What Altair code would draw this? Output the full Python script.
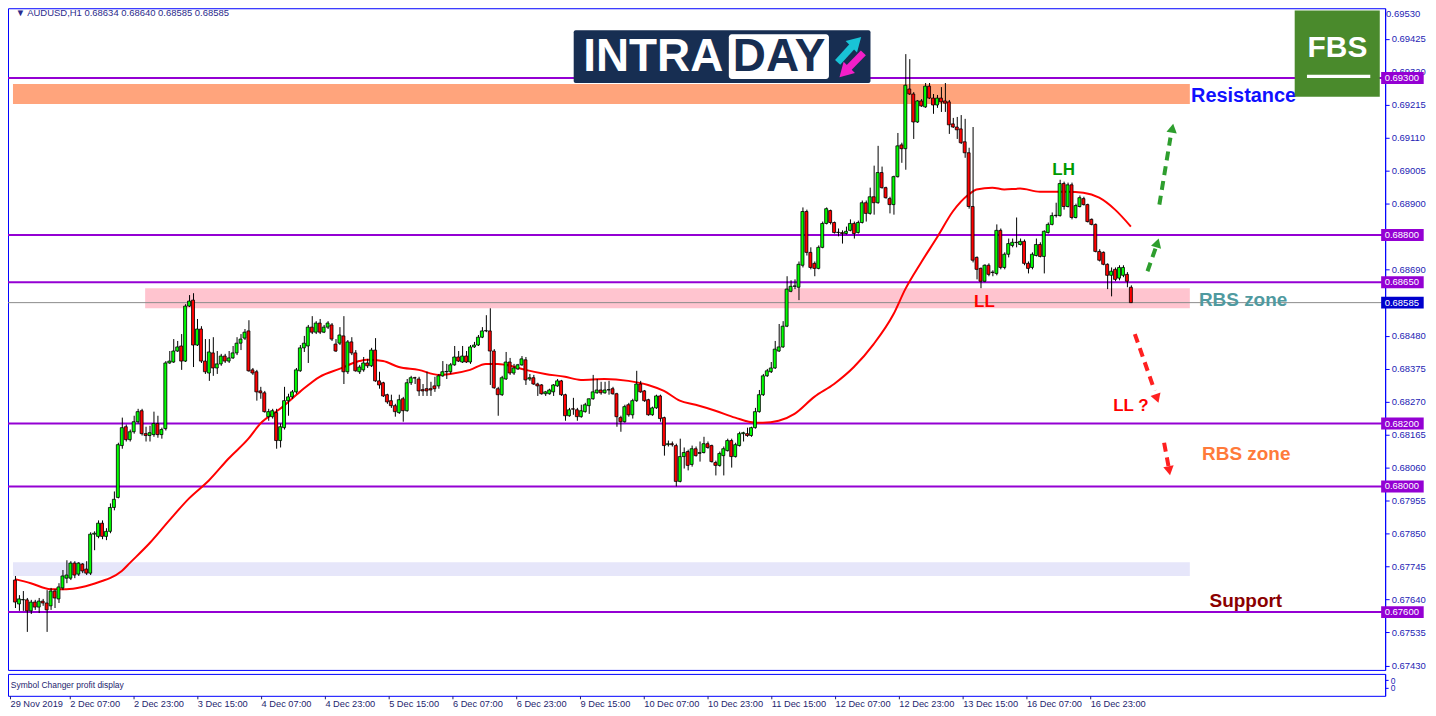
import altair as alt
import pandas as pd

# ---------------- data (AUDUSD H1) ----------------
opens = [0.67702,0.67626,0.67639,0.67639,0.67604,0.67632,0.67616,0.67635,0.67629,0.67620,
0.67667,0.67642,0.67677,0.67708,0.67708,0.67756,0.67721,0.67753,0.67737,0.67724,
0.67848,0.67841,0.67883,0.67841,0.67857,0.67933,0.67965,0.68130,0.68190,0.68149,
0.68174,0.68206,0.68241,0.68168,0.68162,0.68165,0.68200,0.68165,0.68184,0.68393,
0.68396,0.68431,0.68447,0.68399,0.68574,0.68593,0.68450,0.68501,0.68399,0.68361,
0.68425,0.68377,0.68390,0.68415,0.68399,0.68409,0.68425,0.68456,0.68472,0.68495,
0.68371,0.68365,0.68304,0.68298,0.68222,0.68222,0.68235,0.68146,0.68187,0.68273,
0.68285,0.68301,0.68368,0.68441,0.68447,0.68507,0.68491,0.68520,0.68491,0.68507,
0.68514,0.68453,0.68456,0.68479,0.68365,0.68460,0.68425,0.68365,0.68371,0.68393,
0.68384,0.68434,0.68336,0.68330,0.68292,0.68273,0.68257,0.68235,0.68279,0.68241,
0.68330,0.68346,0.68342,0.68308,0.68311,0.68311,0.68320,0.68320,0.68352,0.68365,
0.68365,0.68387,0.68412,0.68396,0.68415,0.68396,0.68444,0.68450,0.68475,0.68495,
0.68495,0.68431,0.68311,0.68292,0.68342,0.68396,0.68361,0.68374,0.68387,0.68403,
0.68342,0.68346,0.68326,0.68323,0.68295,0.68295,0.68301,0.68320,0.68336,0.68292,
0.68225,0.68247,0.68244,0.68222,0.68238,0.68257,0.68279,0.68298,0.68307,0.68298,
0.68307,0.68311,0.68295,0.68219,0.68206,0.68260,0.68228,0.68273,0.68326,0.68304,
0.68276,0.68228,0.68250,0.68288,0.68219,0.68133,0.68136,0.68130,0.68016,0.68095,
0.68111,0.68070,0.68120,0.68105,0.68108,0.68136,0.68130,0.68076,0.68067,0.68098,
0.68114,0.68146,0.68095,0.68130,0.68168,0.68168,0.68162,0.68187,0.68238,0.68292,
0.68352,0.68365,0.68377,0.68431,0.68444,0.68510,0.68621,0.68637,0.68634,0.68704,
0.68875,0.68745,0.68710,0.68694,0.68761,0.68837,0.68878,0.68840,0.68808,0.68808,
0.68805,0.68815,0.68837,0.68808,0.68840,0.68903,0.68869,0.68922,0.68903,0.68999,
0.68951,0.68916,0.68897,0.68986,0.69087,0.69075,0.69265,0.69249,0.69160,0.69227,
0.69208,0.69274,0.69236,0.69214,0.69236,0.69227,0.69224,0.69154,0.69144,0.69138,
0.69097,0.69062,0.68891,0.68729,0.68694,0.68653,0.68704,0.68682,0.68678,0.68815,
0.68697,0.68739,0.68767,0.68777,0.68770,0.68780,0.68710,0.68697,0.68735,0.68770,
0.68732,0.68808,0.68834,0.68862,0.68862,0.68964,0.68891,0.68960,0.68856,0.68891,
0.68916,0.68897,0.68850,0.68834,0.68748,0.68745,0.68707,0.68672,0.68691,0.68663,
0.68672,0.68675,0.68634]
highs = [0.67715,0.67654,0.67667,0.67645,0.67639,0.67639,0.67645,0.67642,0.67670,0.67677,
0.67673,0.67692,0.67734,0.67765,0.67762,0.67762,0.67759,0.67756,0.67762,0.67854,
0.67857,0.67892,0.67892,0.67867,0.67946,0.67984,0.68139,0.68219,0.68197,0.68181,
0.68225,0.68247,0.68247,0.68190,0.68193,0.68238,0.68225,0.68187,0.68399,0.68431,
0.68469,0.68463,0.68485,0.68580,0.68609,0.68615,0.68533,0.68510,0.68469,0.68469,
0.68475,0.68431,0.68422,0.68422,0.68431,0.68447,0.68475,0.68485,0.68501,0.68529,
0.68377,0.68371,0.68317,0.68304,0.68247,0.68247,0.68247,0.68200,0.68317,0.68295,
0.68307,0.68377,0.68450,0.68479,0.68514,0.68542,0.68526,0.68533,0.68514,0.68526,
0.68520,0.68469,0.68507,0.68542,0.68466,0.68475,0.68434,0.68387,0.68412,0.68406,
0.68441,0.68472,0.68365,0.68333,0.68295,0.68292,0.68263,0.68292,0.68285,0.68342,
0.68352,0.68349,0.68349,0.68326,0.68365,0.68333,0.68349,0.68358,0.68399,0.68390,
0.68393,0.68447,0.68431,0.68447,0.68431,0.68450,0.68460,0.68482,0.68507,0.68545,
0.68567,0.68437,0.68317,0.68352,0.68428,0.68409,0.68390,0.68390,0.68415,0.68412,
0.68358,0.68355,0.68330,0.68326,0.68304,0.68311,0.68326,0.68342,0.68339,0.68295,
0.68250,0.68282,0.68250,0.68260,0.68266,0.68279,0.68355,0.68342,0.68333,0.68333,
0.68336,0.68317,0.68298,0.68225,0.68260,0.68266,0.68279,0.68368,0.68336,0.68307,
0.68279,0.68254,0.68292,0.68292,0.68222,0.68146,0.68143,0.68136,0.68152,0.68124,
0.68117,0.68130,0.68127,0.68143,0.68158,0.68143,0.68133,0.68082,0.68111,0.68127,
0.68152,0.68152,0.68139,0.68174,0.68174,0.68187,0.68190,0.68250,0.68307,0.68358,
0.68374,0.68396,0.68463,0.68517,0.68526,0.68669,0.68656,0.68659,0.68716,0.68888,
0.68881,0.68761,0.68716,0.68767,0.68843,0.68888,0.68881,0.68843,0.68821,0.68815,
0.68827,0.68850,0.68843,0.68846,0.68910,0.68910,0.68951,0.69021,0.69084,0.69018,
0.68954,0.68922,0.68989,0.69125,0.69094,0.69376,0.69360,0.69255,0.69230,0.69233,
0.69284,0.69284,0.69249,0.69246,0.69271,0.69284,0.69230,0.69173,0.69176,0.69182,
0.69170,0.69078,0.69144,0.68732,0.68697,0.68707,0.68710,0.68688,0.68834,0.68821,
0.68745,0.68789,0.68789,0.68856,0.68789,0.68786,0.68716,0.68745,0.68789,0.68777,
0.68815,0.68840,0.68872,0.68903,0.68976,0.68970,0.68967,0.68967,0.68900,0.68926,
0.68922,0.68900,0.68853,0.68837,0.68755,0.68748,0.68710,0.68697,0.68697,0.68704,
0.68704,0.68682,0.68640]
lows = [0.67613,0.67604,0.67604,0.67537,0.67594,0.67607,0.67597,0.67620,0.67537,0.67607,
0.67613,0.67629,0.67670,0.67692,0.67702,0.67708,0.67715,0.67724,0.67718,0.67718,
0.67797,0.67835,0.67832,0.67829,0.67851,0.67924,0.67962,0.68120,0.68143,0.68143,
0.68168,0.68200,0.68162,0.68143,0.68143,0.68158,0.68155,0.68152,0.68178,0.68390,
0.68393,0.68428,0.68371,0.68396,0.68571,0.68380,0.68447,0.68393,0.68358,0.68336,
0.68352,0.68358,0.68384,0.68393,0.68393,0.68406,0.68418,0.68434,0.68466,0.68365,
0.68355,0.68273,0.68279,0.68235,0.68209,0.68216,0.68120,0.68124,0.68181,0.68225,
0.68279,0.68295,0.68365,0.68428,0.68393,0.68485,0.68485,0.68485,0.68488,0.68501,
0.68463,0.68428,0.68450,0.68326,0.68358,0.68418,0.68365,0.68358,0.68365,0.68377,
0.68380,0.68333,0.68311,0.68285,0.68263,0.68250,0.68222,0.68231,0.68206,0.68238,
0.68323,0.68326,0.68288,0.68288,0.68288,0.68288,0.68301,0.68311,0.68349,0.68342,
0.68358,0.68384,0.68396,0.68393,0.68393,0.68390,0.68441,0.68447,0.68472,0.68491,
0.68323,0.68311,0.68225,0.68288,0.68339,0.68355,0.68355,0.68371,0.68384,0.68323,
0.68336,0.68323,0.68288,0.68292,0.68288,0.68292,0.68288,0.68317,0.68288,0.68209,
0.68222,0.68228,0.68209,0.68219,0.68235,0.68231,0.68276,0.68295,0.68292,0.68295,
0.68292,0.68292,0.68190,0.68174,0.68203,0.68222,0.68216,0.68269,0.68298,0.68269,
0.68225,0.68225,0.68247,0.68206,0.68098,0.68127,0.68127,0.68000,0.68013,0.68057,
0.68051,0.68063,0.68095,0.68079,0.68105,0.68120,0.68076,0.68035,0.68063,0.68035,
0.68111,0.68060,0.68092,0.68127,0.68143,0.68158,0.68158,0.68184,0.68235,0.68288,
0.68349,0.68361,0.68374,0.68428,0.68441,0.68507,0.68618,0.68628,0.68593,0.68697,
0.68735,0.68691,0.68669,0.68691,0.68758,0.68834,0.68834,0.68805,0.68796,0.68773,
0.68802,0.68812,0.68789,0.68805,0.68837,0.68843,0.68865,0.68865,0.68900,0.68948,
0.68916,0.68869,0.68865,0.68983,0.69030,0.69008,0.69246,0.69106,0.69157,0.69208,
0.69205,0.69233,0.69186,0.69205,0.69192,0.69192,0.69122,0.69141,0.69106,0.69090,
0.69046,0.68884,0.68713,0.68659,0.68631,0.68650,0.68669,0.68669,0.68672,0.68691,
0.68691,0.68729,0.68761,0.68761,0.68767,0.68704,0.68678,0.68691,0.68732,0.68729,
0.68678,0.68805,0.68831,0.68856,0.68859,0.68881,0.68888,0.68850,0.68853,0.68888,
0.68894,0.68840,0.68831,0.68745,0.68716,0.68704,0.68628,0.68605,0.68653,0.68656,
0.68666,0.68634,0.68585]
closes = [0.67632,0.67642,0.67640,0.67604,0.67632,0.67616,0.67635,0.67629,0.67607,0.67667,
0.67645,0.67680,0.67715,0.67718,0.67756,0.67718,0.67756,0.67731,0.67724,0.67848,
0.67851,0.67883,0.67841,0.67857,0.67933,0.67959,0.68133,0.68187,0.68149,0.68174,
0.68206,0.68238,0.68168,0.68162,0.68171,0.68200,0.68165,0.68181,0.68393,0.68399,
0.68431,0.68444,0.68399,0.68574,0.68590,0.68450,0.68501,0.68399,0.68365,0.68428,
0.68377,0.68390,0.68415,0.68399,0.68409,0.68425,0.68456,0.68469,0.68491,0.68368,
0.68361,0.68301,0.68298,0.68238,0.68238,0.68241,0.68146,0.68190,0.68273,0.68285,
0.68301,0.68371,0.68441,0.68456,0.68507,0.68491,0.68520,0.68491,0.68507,0.68520,
0.68469,0.68431,0.68482,0.68365,0.68460,0.68425,0.68368,0.68380,0.68393,0.68384,
0.68434,0.68336,0.68323,0.68288,0.68269,0.68257,0.68238,0.68276,0.68241,0.68330,
0.68346,0.68345,0.68304,0.68304,0.68304,0.68307,0.68311,0.68352,0.68365,0.68366,
0.68387,0.68412,0.68399,0.68415,0.68396,0.68444,0.68450,0.68475,0.68495,0.68496,
0.68431,0.68314,0.68292,0.68346,0.68396,0.68361,0.68377,0.68387,0.68406,0.68339,
0.68346,0.68326,0.68320,0.68295,0.68301,0.68307,0.68323,0.68336,0.68292,0.68225,
0.68244,0.68246,0.68222,0.68241,0.68260,0.68279,0.68301,0.68307,0.68298,0.68307,
0.68308,0.68295,0.68222,0.68206,0.68254,0.68228,0.68273,0.68326,0.68301,0.68273,
0.68228,0.68250,0.68288,0.68216,0.68130,0.68136,0.68133,0.68016,0.68095,0.68108,
0.68067,0.68120,0.68098,0.68108,0.68136,0.68124,0.68079,0.68067,0.68105,0.68120,
0.68146,0.68095,0.68133,0.68168,0.68171,0.68162,0.68187,0.68238,0.68292,0.68352,
0.68368,0.68377,0.68437,0.68444,0.68510,0.68628,0.68637,0.68638,0.68707,0.68875,
0.68745,0.68697,0.68694,0.68761,0.68837,0.68884,0.68840,0.68808,0.68809,0.68805,
0.68812,0.68837,0.68805,0.68840,0.68903,0.68869,0.68922,0.68903,0.68999,0.68951,
0.68919,0.68897,0.68986,0.69084,0.69075,0.69277,0.69249,0.69160,0.69227,0.69211,
0.69274,0.69236,0.69214,0.69236,0.69224,0.69220,0.69151,0.69144,0.69135,0.69094,
0.69062,0.68891,0.68720,0.68691,0.68653,0.68704,0.68675,0.68681,0.68815,0.68697,
0.68739,0.68773,0.68777,0.68776,0.68780,0.68710,0.68694,0.68739,0.68770,0.68732,
0.68812,0.68834,0.68862,0.68863,0.68964,0.68891,0.68960,0.68856,0.68894,0.68919,
0.68897,0.68843,0.68834,0.68748,0.68720,0.68707,0.68672,0.68685,0.68659,0.68697,
0.68697,0.68653,0.68585]

# moving average (bar index, price)
ma_idx = [0,4,9,13,17,22,24,27,29,34,39,44,49,54,59,62,67,72,77,82,87,89,93,97,102,107,110,
          115,119,122,124,129,134,139,143,149,155,160,164,168,172,177,182,187,189,193,197,202,
          207,212,217,222,225,229,233,237,241,243,247,250,254,259,266,270,274,278,282]
ma_val = [0.67705,0.67692,0.67673,0.67673,0.67680,0.67699,0.67708,0.67731,0.67756,0.67819,
          0.67892,0.67962,0.68019,0.68089,0.68152,0.68200,0.68247,0.68301,0.68349,0.68374,
          0.68399,0.68403,0.68399,0.68380,0.68371,0.68355,0.68358,0.68371,0.68390,0.68390,
          0.68387,0.68371,0.68358,0.68349,0.68339,0.68342,0.68336,0.68323,0.68304,0.68273,
          0.68260,0.68241,0.68219,0.68203,0.68203,0.68209,0.68231,0.68285,0.68326,0.68380,
          0.68453,0.68548,0.68628,0.68713,0.68792,0.68875,0.68929,0.68945,0.68951,0.68945,
          0.68948,0.68938,0.68938,0.68935,0.68919,0.68881,0.68827]

level_prices = [0.69300, 0.68800, 0.68650, 0.68200, 0.68000, 0.67600]
current_price = 0.68585

# price-scale labels (0.68585 and 0.68795 sit under the price tags; 0.69530 is at the very top)
y_ticks = [0.67430,0.67535,0.67640,0.67745,0.67850,0.67955,0.68060,0.68165,0.68270,0.68375,
           0.68480,0.68690,0.68900,0.69005,0.69110,0.69215,0.69320,0.69425]
top_tick = "0.69530"

x_tick_idx = [0,15,31,47,63,79,95,111,127,143,159,175,191,207,223,239,255,271]
x_tick_labels = ["29 Nov 2019","2 Dec 07:00","2 Dec 23:00","3 Dec 15:00","4 Dec 07:00",
                 "4 Dec 23:00","5 Dec 15:00","6 Dec 07:00","6 Dec 23:00","9 Dec 15:00",
                 "10 Dec 07:00","10 Dec 23:00","11 Dec 15:00","12 Dec 07:00","12 Dec 23:00",
                 "13 Dec 15:00","16 Dec 07:00","16 Dec 23:00"]

# zones: (x start, x end, price low, price high)
zone_x1 = [-0.5, 32.9, -0.5]
zone_x2 = [296.9, 296.9, 296.9]
zone_lo = [0.69217, 0.68567, 0.67715]
zone_hi = [0.69281, 0.68631, 0.67759]

# ---------------- styling ----------------
FONT = "Liberation Sans"
BLUE = "#0000ff"
PURPLE = "#9400d3"
AXLAB = "#2424b4"
X_DOM = [-0.5, 345]
Y_DOM = [0.67416, 0.69522]
W, H = 1382, 664

xs = alt.Scale(domain=X_DOM, nice=False, zero=False)
ys = alt.Scale(domain=Y_DOM, nice=False, zero=False)

yaxis = alt.Axis(orient="right", values=y_ticks, format=".5f", title=None, grid=False,
                 labelFont=FONT, labelFontSize=9.5, labelColor=AXLAB,
                 tickColor=BLUE, domainColor=BLUE, tickSize=4, labelPadding=2,
                 labelOverlap=False, labelFlush=False, zindex=0)


def X(f):
    return alt.X(f, scale=xs, axis=None)


def Y(f):
    return alt.Y(f, scale=ys, axis=yaxis)


df = pd.DataFrame({"i": list(range(len(closes))), "open": opens, "high": highs,
                   "low": lows, "close": closes})
df["fill"] = ["#00ff00" if c >= o else "#ff0000" for o, c in zip(opens, closes)]

zones = pd.DataFrame({"x1": zone_x1, "x2": zone_x2, "lo": zone_lo, "hi": zone_hi,
                      "c": ["#ffa47c", "#ffc4cf", "#e6e6fa"]})

layers = []
layers.append(alt.Chart(zones).mark_rect().encode(
    x=X("x1:Q"), x2="x2:Q", y=Y("lo:Q"), y2="hi:Q", fill=alt.Fill("c:N", scale=None)))

layers.append(alt.Chart(pd.DataFrame({"p": [current_price]})).mark_rule(
    color="#8c8c8c", strokeWidth=1).encode(y=Y("p:Q")))
layers.append(alt.Chart(pd.DataFrame({"p": level_prices})).mark_rule(
    color=PURPLE, strokeWidth=2).encode(y=Y("p:Q")))

layers.append(alt.Chart(pd.DataFrame({"i": ma_idx, "v": ma_val})).mark_line(
    color="#ff0000", strokeWidth=2, interpolate="monotone").encode(x=X("i:Q"), y=Y("v:Q")))

layers.append(alt.Chart(df).mark_rule(color="black", strokeWidth=1, xOffset=0.5).encode(
    x=X("i:Q"), y=Y("low:Q"), y2="high:Q"))
layers.append(alt.Chart(df).mark_bar(size=3, stroke="black", strokeWidth=0.8).encode(
    x=X("i:Q"), y=Y("open:Q"), y2="close:Q", fill=alt.Fill("fill:N", scale=None)))

# dashed arrows (x/y in bar index / price)
arrows = [
    dict(x=289.2, y=0.68897, x2=292.0, y2=0.69110, c="#2e9e2e", ang=10),
    dict(x=286.2, y=0.68685, x2=288.3, y2=0.68760, c="#2e9e2e", ang=17),
    dict(x=283.0, y=0.68485, x2=288.0, y2=0.68305, c="#ff2020", ang=161),
    dict(x=290.4, y=0.68139, x2=291.5, y2=0.68065, c="#ff2020", ang=170),
]
heads = [
    dict(x=292.5, y=0.69140), dict(x=288.7, y=0.68775),
    dict(x=288.6, y=0.68280), dict(x=291.7, y=0.68050),
]
for a, h in zip(arrows, heads):
    adf = pd.DataFrame([a])
    layers.append(alt.Chart(adf).mark_rule(strokeWidth=4, strokeDash=[9, 6], color=a["c"]).encode(
        x=X("x:Q"), x2="x2:Q", y=Y("y:Q"), y2="y2:Q"))
    layers.append(alt.Chart(pd.DataFrame([h])).mark_point(
        shape="triangle-up", filled=True, size=110, opacity=1, color=a["c"], angle=a["ang"]).encode(
        x=X("x:Q"), y=Y("y:Q")))


def rect(x1, x2, y1, y2, color, r=0):
    return alt.Chart(pd.DataFrame({"x1": [x1], "x2": [x2], "y1": [y1], "y2": [y2]})).mark_rect(
        color=color, cornerRadius=r).encode(x=X("x1:Q"), x2="x2:Q", y=Y("y1:Q"), y2="y2:Q")


def label(t, x, y, color, size, weight="bold", align="center", baseline="middle"):
    return alt.Chart(pd.DataFrame({"x": [x], "y": [y], "t": [t]})).mark_text(
        font=FONT, fontWeight=weight, fontSize=size, color=color, align=align,
        baseline=baseline).encode(x=X("x:Q"), y=Y("y:Q"), text="t:N")


# text annotations
notes = [
    ("Resistance", 297.2, 0.69243, "#1010ff", 20, "left"),
    ("RBS zone", 299.2, 0.68593, "#4f9aa0", 19, "left"),
    ("RBS zone", 300.0, 0.68102, "#ff7a3a", 19, "left"),
    ("Support", 301.9, 0.67636, "#8b0000", 19, "left"),
    ("LL ?", 282.0, 0.68257, "#ff0000", 17, "center"),
    ("LL", 245.0, 0.68587, "#ff0000", 17, "center"),
    ("LH", 265.0, 0.69008, "#009a00", 17, "center"),
]
for t, x, y, c, s, al in notes:
    layers.append(label(t, x, y, c, s, align=al))

# header
layers.append(label("\u25bc  AUDUSD,H1  0.68634 0.68640 0.68585 0.68585", 0.2, 0.69508,
                    "#2b2b8c", 9.5, weight="normal", align="left"))

# top price-scale label, kept inside the frame height
layers.append(label(top_tick, 346.5, 0.69521, AXLAB, 9.5, weight="normal", align="left",
                    baseline="top"))

# INTRADAY logo
NAVY = "#172e52"
layers.append(rect(141.2, 216.2, 0.69284, 0.69452, NAVY, 2))
layers.append(label("INTRA", 161.3, 0.69366, "white", 46))
layers.append(rect(180.4, 205.7, 0.69297, 0.69439, "white", 3))
layers.append(label("DAY", 193.1, 0.69366, NAVY, 46))
for (x1, y1, x2, y2, c, ang) in [(207.9, 0.69350, 212.6, 0.69415, "#19c3d6", 45),
                                 (214.4, 0.69380, 209.6, 0.69318, "#f21fc8", 225)]:
    layers.append(alt.Chart(pd.DataFrame({"x": [x1], "y": [y1], "x2": [x2], "y2": [y2]})).mark_rule(
        strokeWidth=7, color=c).encode(x=X("x:Q"), x2="x2:Q", y=Y("y:Q"), y2="y2:Q"))
    layers.append(alt.Chart(pd.DataFrame({"x": [x2], "y": [y2]})).mark_point(
        shape="triangle-up", filled=True, size=260, opacity=1, color=c, angle=ang).encode(
        x=X("x:Q"), y=Y("y:Q")))

# FBS logo
layers.append(rect(323.4, 344.9, 0.69240, 0.69515, "#4a8a2c"))
layers.append(label("FBS", 334.2, 0.69395, "white", 30))
layers.append(rect(326.5, 342.5, 0.69300, 0.69310, "white"))

# right-axis price tags
tag_x1, tag_x2 = 345.25, 356.0
for p, c in [(v, PURPLE) for v in level_prices] + [(current_price, "#0000cd")]:
    layers.append(rect(tag_x1, tag_x2, p - 0.00019, p + 0.00019, c))
    layers.append(label(f"{p:.5f}", tag_x1 + 0.9, p, "white", 9.5, weight="normal", align="left"))

main = alt.layer(*layers).properties(width=W, height=H)

# lower indicator strip with the time axis
xlab_expr = ("[" + ",".join(f"'{s}'" for s in x_tick_labels) + "][indexof(["
             + ",".join(str(v) for v in x_tick_idx) + "], datum.value)]")
strip_df = pd.DataFrame({"x": [0.2], "y": [0.5], "t": ["Symbol Changer profit display"]})
strip = alt.Chart(strip_df).mark_text(
    font=FONT, fontSize=8.5, color="#1e1e6e", align="left", baseline="middle").encode(
    x=alt.X("x:Q", scale=xs, axis=alt.Axis(values=x_tick_idx, labelExpr=xlab_expr, title=None,
                                           grid=False, labelAlign="left", labelFont=FONT,
                                           labelFontSize=9.3, labelColor="#1e1e6e",
                                           tickColor="#1e1e6e", tickSize=3, labelPadding=1,
                                           domain=False, labelOverlap=False, labelFlush=False)),
    y=alt.Y("y:Q", scale=alt.Scale(domain=[0, 1]),
            axis=alt.Axis(orient="right", values=[0.72, 0.38], labelExpr="'0'", title=None,
                          grid=False, labelFont=FONT, labelFontSize=8.5, labelColor=AXLAB,
                          tickColor=BLUE, domainColor=BLUE, tickSize=3, labelPadding=2)),
    text="t:N").properties(width=W, height=22)

chart = alt.vconcat(main, strip, spacing=2).properties(
    padding={"left": -2, "top": -3, "right": 2, "bottom": 3}, background="white"
).configure_view(stroke=BLUE, strokeWidth=1)

chart.save("out.html", embed_options={"renderer": "svg", "actions": False})
